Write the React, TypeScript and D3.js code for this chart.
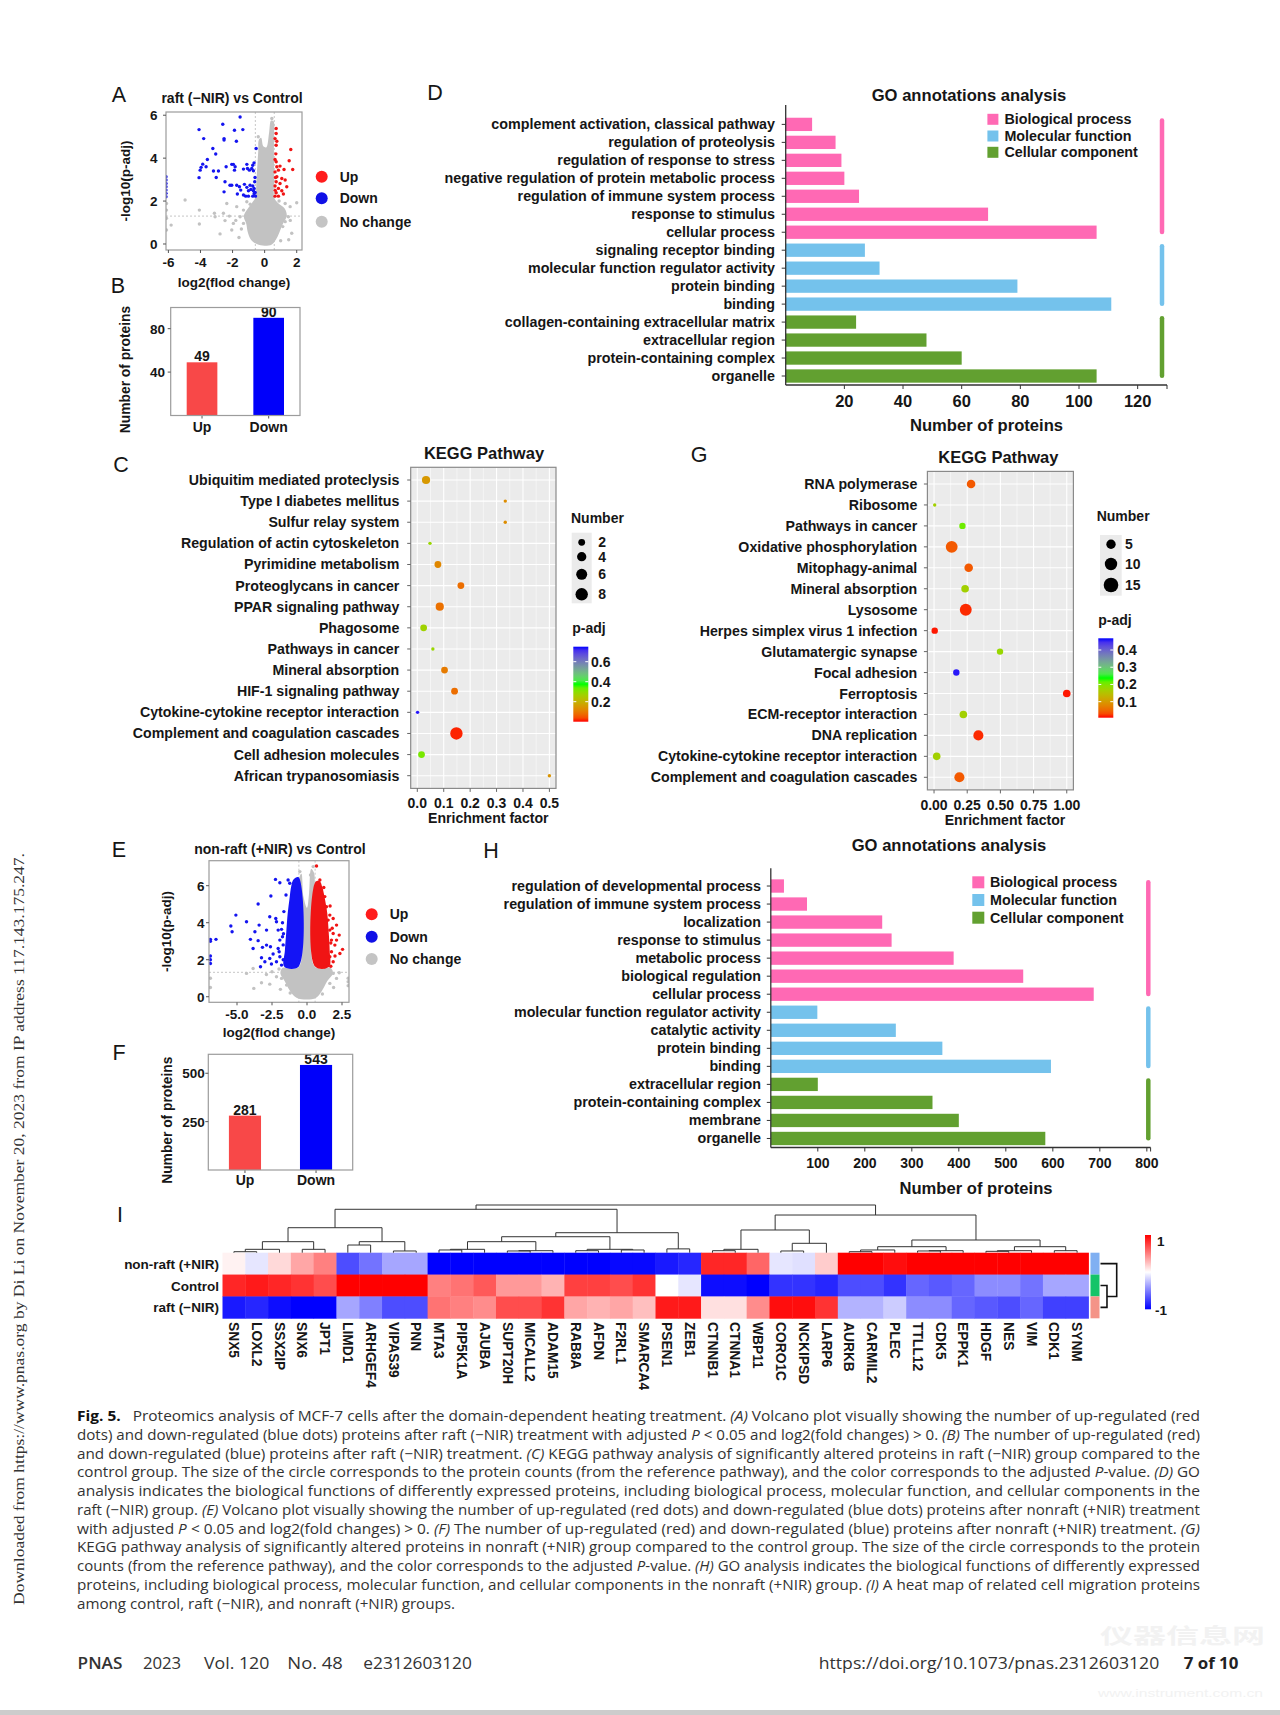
import React from 'react';
import * as d3 from 'd3';

type Pt = [number, number];

const FONT = "'Liberation Sans', Arial, Helvetica, sans-serif";
const INK = '#161616';

/* ================= A : raft (−NIR) vs Control ================= */
const volcA_up: Pt[] = [[0.72,5.38],[0.72,5.15],[0.65,4.91],[0.76,4.79],[0.72,4.6],[1.63,4.4],[0.65,3.94],[0.72,3.83],[1.53,3.88],[0.96,3.63],[0.76,3.6],[0.86,3.44],[1.21,3.47],[0.65,3.36],[1.75,3.47],[0.76,3.13],[1.07,3.05],[1.28,2.98],[0.72,2.9],[0.96,2.82],[0.65,2.7],[1.38,2.67],[0.86,2.59],[1.07,2.48],[0.72,2.39],[0.65,2.23],[0.86,2.23],[1.17,2.33],[0.68,3.1],[0.7,4.2],[0.66,2.5]];
const volcA_down: Pt[] = [[-1.53,5.92],[-4.09,5.33],[-2.61,5.58],[-1.88,5.3],[-1.36,5.33],[-2.53,4.91],[-2.53,4.84],[-3.8,4.91],[-1.76,4.79],[-3.23,4.45],[-0.53,4.45],[-3.05,4.19],[-3.57,3.94],[-3.86,3.72],[-3.65,3.6],[-3.96,3.57],[-4.02,3.44],[-4.09,3.09],[-3.19,3.4],[-2.88,3.4],[-3.02,3.1],[-2.4,3.6],[-2.05,3.71],[-1.95,3.71],[-1.84,3.6],[-1.88,3.44],[-1.11,3.71],[-0.74,3.67],[-0.66,3.78],[-1.07,3.52],[-0.8,3.52],[-1.32,3.49],[-0.95,3.44],[-0.7,3.41],[-2.47,2.9],[-2.05,2.74],[-2.16,2.74],[-2.53,2.43],[-1.74,2.74],[-1.57,2.67],[-1.26,2.78],[-1.49,2.51],[-1.11,2.64],[-0.91,2.74],[-0.74,2.7],[-0.66,2.59],[-0.86,2.54],[-1.01,2.48],[-0.7,2.48],[-0.59,2.4],[-1.7,2.33],[-1.32,2.28],[-1.01,2.23],[-0.74,2.23],[-0.57,2.23],[-1.18,2.23],[-6.15,3.13],[-6.15,2.98],[-6.15,2.82],[-6.15,2.67],[-6.15,2.51],[-6.15,2.36],[-6.15,2.2],[-0.62,2.9],[-0.6,3.1],[-0.65,2.35]];
const volcA_gray: Pt[] = [[-4.96,2.05],[-4.07,1.58],[-5.83,0.88],[-4.07,0.93],[-3.09,1.27],[-3.13,1.43],[-2.57,1.43],[-2.47,1.09],[-2.78,0.47],[-2.05,0.65],[-1.95,0.96],[-1.74,1.74],[-1.53,1.27],[-1.32,1.58],[-1.11,1.4],[-1.32,0.96],[1.59,1.74],[1.48,1.27],[1.69,0.5],[2.0,1.92],[1.28,1.89],[1.07,1.58],[1.28,1.04],[1.13,0.81],[-2.36,1.89],[-1.11,1.97],[-6.12,0.65],[-6.12,1.58],[-6.12,1.89],[-6.12,1.2],[-1.6,0.3],[-1.45,0.7],[1.5,0.2],[1.0,0.15],[-0.9,1.85],[0.9,2.0],[1.6,1.1],[-1.8,1.1],[-2.2,1.3],[-0.4,5.0],[0.45,5.85]];
const volcA_core: Pt[] = [[-0.49,0.0],[-0.85,0.2],[-1.05,0.55],[-1.15,0.95],[-1.3,1.3],[-1.1,1.6],[-0.8,1.9],[-0.58,2.15],[-0.52,2.8],[-0.46,3.6],[-0.4,4.3],[-0.36,4.85],[-0.22,4.95],[-0.08,4.55],[0.1,4.5],[0.28,5.2],[0.4,5.75],[0.56,5.72],[0.58,5.0],[0.58,4.0],[0.6,3.0],[0.6,2.15],[0.85,1.9],[1.25,1.65],[1.38,1.3],[1.15,0.95],[0.9,0.5],[0.7,0.2],[0.45,-0.02],[0.0,-0.08]];

/* ================= B ================= */
const countB_cats = ['Up', 'Down'];
const countB_vals = [49, 90];

/* ================= E : non-raft (+NIR) vs Control ================= */
const volcE_up: Pt[] = [[0.68,7.06],[0.92,6.31],[1.03,5.77],[1.27,5.41],[1.63,4.41],[1.51,4.14],[1.87,4.23],[2.11,3.87],[2.3,3.33],[2.54,2.56],[2.35,2.34],[1.99,2.79],[1.87,3.42],[1.75,3.06],[1.63,2.16],[1.87,1.89],[1.51,1.8],[1.75,2.43],[2.11,3.06],[1.39,4.86],[1.63,3.6],[1.27,1.62],[1.7,1.65],[2.0,2.2],[1.65,4.9],[1.2,5.9],[1.7,2.9],[1.8,3.7]];
const volcE_down: Pt[] = [[-5.08,4.41],[-5.44,3.82],[-5.35,3.51],[-4.32,4.05],[-3.49,5.01],[-3.42,3.87],[-3.72,3.51],[-4.04,3.1],[-3.85,2.61],[-3.49,3.03],[-3.18,2.67],[-2.89,3.6],[-2.66,4.32],[-2.58,5.44],[-2.25,6.34],[-1.94,6.16],[-2.23,4.23],[-2.18,4.05],[-2.89,2.79],[-2.61,2.7],[-3.25,2.11],[-3.32,1.62],[-3.01,1.89],[-2.66,2.07],[-2.42,2.31],[-2.18,1.89],[-2.54,1.77],[-1.94,2.16],[-2.06,3.6],[-1.82,3.64],[-1.75,3.24],[-1.94,3.06],[-2.06,2.61],[-1.99,2.43],[-1.35,6.31],[-1.23,6.13],[-1.82,1.71],[-6.9,3.1],[-6.9,3.0],[-6.9,2.2],[-6.9,2.0],[-6.9,1.8],[-6.5,3.1],[-1.7,2.8],[-1.75,4.0],[-1.65,4.6],[-1.5,5.5],[-1.7,2.0],[-1.68,3.4]];
const volcE_gray: Pt[] = [[-4.32,1.26],[-3.85,1.53],[-3.8,0.45],[-3.25,0.76],[-2.66,0.68],[-2.18,1.08],[-1.82,0.99],[-1.46,0.63],[1.87,1.26],[2.11,0.99],[1.63,0.72],[2.94,0.81],[2.94,0.6],[2.94,1.0],[-0.51,6.76],[0.25,6.58],[0.44,7.03],[-2.5,1.35],[-2.9,1.2],[-2.0,1.5],[2.3,1.3],[-6.9,1.0],[-6.9,0.5],[-1.9,0.4],[1.9,0.5],[-1.2,0.2],[1.1,0.15]];
const volcE_core: Pt[] = [[-0.75,-0.05],[-1.2,0.3],[-1.6,0.85],[-1.9,1.25],[-1.75,1.55],[-0.56,1.62],[-0.56,6.4],[-0.4,6.65],[-0.25,5.4],[0.0,4.8],[0.15,5.6],[0.3,6.9],[0.5,6.7],[0.56,6.0],[0.56,1.62],[1.7,1.55],[1.85,1.25],[1.45,0.85],[1.05,0.3],[0.65,-0.05],[0.0,-0.15]];
const volcE_downCore: Pt[] = [[-0.6,1.62],[-1.62,1.62],[-1.58,2.5],[-1.48,3.5],[-1.38,4.5],[-1.25,5.3],[-1.12,6.0],[-0.95,6.35],[-0.6,6.45]];
const volcE_upCore: Pt[] = [[0.6,1.62],[1.58,1.62],[1.62,2.5],[1.55,3.5],[1.45,4.5],[1.3,5.2],[1.1,5.9],[0.9,6.25],[0.6,6.2]];

/* ================= F ================= */
const countF_cats = ['Up', 'Down'];
const countF_vals = [281, 543];

/* ================= C : KEGG raft ================= */
const keggC_terms = ['Ubiquitim mediated proteclysis','Type I diabetes mellitus','Sulfur relay system','Regulation of actin cytoskeleton','Pyrimidine metabolism','Proteoglycans in cancer','PPAR signaling pathway','Phagosome','Pathways in cancer','Mineral absorption','HIF-1 signaling pathway','Cytokine-cytokine receptor interaction','Complement and coagulation cascades','Cell adhesion molecules','African trypanosomiasis'];
const keggC_ef = [0.033,0.333,0.333,0.048,0.078,0.165,0.085,0.024,0.059,0.103,0.141,0.001,0.148,0.016,0.5];
const keggC_count = [3,1,1,1,2,2,3,2,1,2,2,1,8,2,1];
const keggC_padj = [0.15,0.13,0.13,0.28,0.12,0.08,0.085,0.27,0.28,0.1,0.08,0.74,0.01,0.32,0.14];

/* ================= G : KEGG non-raft ================= */
const keggG_terms = ['RNA polymerase','Ribosome','Pathways in cancer','Oxidative phosphorylation','Mitophagy-animal','Mineral absorption','Lysosome','Herpes simplex virus 1 infection','Glutamatergic synapse','Focal adhesion','Ferroptosis','ECM-receptor interaction','DNA replication','Cytokine-cytokine receptor interaction','Complement and coagulation cascades'];
const keggG_ef = [0.279,0.005,0.214,0.133,0.261,0.234,0.239,0.005,0.497,0.168,1.0,0.221,0.334,0.02,0.191];
const keggG_count = [4,1,2,9,4,3,9,2,2,2,3,3,6,3,6];
const keggG_padj = [0.04,0.17,0.21,0.04,0.04,0.17,0.015,0.01,0.18,0.46,0.01,0.17,0.015,0.17,0.04];

/* ================= D : GO raft ================= */
const goD_terms = ['complement activation, classical pathway','regulation of proteolysis','regulation of response to stress','negative regulation of protein metabolic process','regulation of immune system process','response to stimulus','cellular process','signaling receptor binding','molecular function regulator activity','protein binding','binding','collagen-containing extracellular matrix','extracellular region','protein-containing complex','organelle'];
const goD_values = [9,17,19,20,25,69,106,27,32,79,111,24,48,60,106];
const goD_groups = ['BP','BP','BP','BP','BP','BP','BP','MF','MF','MF','MF','CC','CC','CC','CC'];

/* ================= H : GO non-raft ================= */
const goH_terms = ['regulation of developmental process','regulation of immune system process','localization','response to stimulus','metabolic process','biological regulation','cellular process','molecular function regulator activity','catalytic activity','protein binding','binding','extracellular region','protein-containing complex','membrane','organelle'];
const goH_values = [28,77,237,257,389,537,687,99,266,365,596,100,344,400,584];
const goH_groups = ['BP','BP','BP','BP','BP','BP','BP','MF','MF','MF','MF','CC','CC','CC','CC'];

const goGroupKeys = ['BP', 'MF', 'CC'];
const goGroupNames = ['Biological process', 'Molecular function', 'Cellular component'];
const goGroupColors = ['#ff69b4', '#74c2ec', '#62a030'];

/* ================= I : heat map ================= */
const hm_genes = ['SNX5','LOXL2','SSX2IP','SNX6','JPT1','LIMD1','ARHGEF4','VIPAS39','PNN','MTA3','PIP5K1A','AJUBA','SUPT20H','MICALL2','ADAM15','RAB8A','AFDN','F2RL1','SMARCA4','PSEN1','ZEB1','CTNNB1','CTNNA1','WBP11','CORO1C','NCKIPSD','LARP6','AURKB','CARMIL2','PLEC','TTLL12','CDK5','EPPK1','HDGF','NES','VIM','CDK1','SYNM'];
const hm_rows = ['non-raft (+NIR)', 'Control', 'raft (\u2212NIR)'];
const hm_nonraft = [0.05,-0.1,0.15,0.35,0.5,-0.7,-0.55,-0.35,-0.35,-1,-1,-1,-1,-1,-1,-1,-1,-0.97,-0.97,-0.9,-0.85,0.85,0.85,0.6,-0.1,-0.12,0.2,1,1,0.95,1,1,1,1,1,1,1,1];
const hm_control = [0.85,0.9,0.85,0.8,0.7,1,1,1,1,0.5,0.55,0.65,0.4,0.4,0.3,0.75,0.75,0.7,0.8,0.0,-0.1,-0.95,-0.95,-1,-0.8,-0.8,-0.85,-0.7,-0.7,-0.8,-0.6,-0.65,-0.6,-0.45,-0.45,-0.55,-0.35,-0.35];
const hm_raft = [-0.9,-0.85,-0.95,-1,-1,-0.35,-0.5,-0.7,-0.7,0.55,0.5,0.45,0.7,0.7,0.8,0.35,0.3,0.35,0.25,0.9,0.9,0.12,0.12,0.45,0.95,0.95,0.8,-0.3,-0.3,-0.2,-0.45,-0.45,-0.6,-0.65,-0.7,-0.6,-0.75,-0.75];
const hm_rowAnnot = ['#80b0f2', '#14c468', '#f49488'];
// hclust-style merges: negative = leaf (1-based), positive = earlier merge (1-based); third = height
const hm_colMerges: [number, number, number][] = [
  [-1,-2,0.21],[-3,1,0.71],[-4,-5,0.71],[2,3,2.31],[-6,-7,1.61],[-8,-9,0.36],[5,6,2.31],[4,7,5.24],
  [-10,-11,0.57],[9,-12,0.71],[-13,-14,0.36],[11,-15,0.42],[10,12,2.31],[-16,-17,0.42],[-18,-19,0.57],[14,15,0.71],[13,16,3.35],[-20,-21,0.8],[17,18,4.19],[8,19,9.1],
  [-22,-23,0.42],[21,-24,0.71],[-25,-26,0.36],[23,-27,1.97],[22,24,4.76],
  [-28,-29,0.21],[26,-30,0.57],[-31,-32,0.36],[28,-33,0.42],[27,29,1.26],[-34,-35,0.29],[31,-36,0.42],[-37,-38,0.42],[32,33,1.26],[30,34,2.66],[25,35,7.9],[20,36,10]
];
const hm_rowMerges: [number, number, number][] = [[-2,-3,0.4],[-1,1,1.0]];

/* ================= caption / page ================= */
const captionLines = [
  '*Fig. 5.*   Proteomics analysis of MCF-7 cells after the domain-dependent heating treatment. _(A)_ Volcano plot visually showing the number of up-regulated (red',
  'dots) and down-regulated (blue dots) proteins after raft (\u2212NIR) treatment with adjusted _P_ < 0.05 and log2(fold changes) > 0. _(B)_ The number of up-regulated (red)',
  'and down-regulated (blue) proteins after raft (\u2212NIR) treatment. _(C)_ KEGG pathway analysis of significantly altered proteins in raft (\u2212NIR) group compared to the',
  'control group. The size of the circle corresponds to the protein counts (from the reference pathway), and the color corresponds to the adjusted _P_-value. _(D)_ GO',
  'analysis indicates the biological functions of differently expressed proteins, including biological process, molecular function, and cellular components in the',
  'raft (\u2212NIR) group. _(E)_ Volcano plot visually showing the number of up-regulated (red dots) and down-regulated (blue dots) proteins after nonraft (+NIR) treatment',
  'with adjusted _P_ < 0.05 and log2(fold changes) > 0. _(F)_ The number of up-regulated (red) and down-regulated (blue) proteins after nonraft (+NIR) treatment. _(G)_',
  'KEGG pathway analysis of significantly altered proteins in nonraft (+NIR) group compared to the control group. The size of the circle corresponds to the protein',
  'counts (from the reference pathway), and the color corresponds to the adjusted _P_-value. _(H)_ GO analysis indicates the biological functions of differently expressed',
  'proteins, including biological process, molecular function, and cellular components in the nonraft (+NIR) group. _(I)_ A heat map of related cell migration proteins',
  'among control, raft (\u2212NIR), and nonraft (+NIR) groups.'
];
const footerLeft = ['PNAS', '2023', 'Vol. 120', 'No. 48', 'e2312603120'];
const footerRight = ['https://doi.org/10.1073/pnas.2312603120', '7 of 10'];
const sideNote = 'Downloaded from https://www.pnas.org by Di Li on November 20, 2023 from IP address 117.143.175.247.';

/* ================= components ================= */
const T = (p: any) => <text fontFamily={FONT} fontWeight="bold" fill={INK} {...p} />;

function Volcano(p: any) {
  const { id, box, xd, yd, xticks, yticks, fmt, up, down, gray, core, downCore, upCore, thrX, thrY, yLabGap, title, titleX, titleY, xlabY, ylabX, legX, legY } = p;
  const [x0, y0, x1, y1] = box;
  const x = d3.scaleLinear().domain(xd).range([x0, x1]);
  const y = d3.scaleLinear().domain(yd).range([y1, y0]);
  const shape = d3.line<Pt>().x(d => x(d[0])).y(d => y(d[1])).curve(d3.curveCatmullRomClosed.alpha(0.5));
  const R = 1.7;
  const GRAY = '#c2c2c2';
  const cx = (x0 + x1) / 2;
  return (
    <g>
      <defs><clipPath id={id}><rect x={x0} y={y0} width={x1 - x0} height={y1 - y0} /></clipPath></defs>
      <rect x={x0} y={y0} width={x1 - x0} height={y1 - y0} fill="#fff" />
      <g clipPath={`url(#${id})`}>
        {thrX.map((v: number) => <line key={v} x1={x(v)} x2={x(v)} y1={y0} y2={y1} stroke="#b8b8b8" strokeWidth={0.8} strokeDasharray="2,2" />)}
        <line x1={x0} x2={x1} y1={y(thrY)} y2={y(thrY)} stroke="#b8b8b8" strokeWidth={0.8} strokeDasharray="2,2" />
        <path d={shape(core) || ''} fill={GRAY} />
        {gray.map((d: Pt, i: number) => <circle key={'g' + i} cx={x(d[0])} cy={y(d[1])} r={R} fill={GRAY} />)}
        {downCore && <path d={shape(downCore) || ''} fill="#1414f5" />}
        {upCore && <path d={shape(upCore) || ''} fill="#f01414" />}
        {down.map((d: Pt, i: number) => <circle key={'d' + i} cx={x(d[0])} cy={y(d[1])} r={R} fill="#1414f0" />)}
        {up.map((d: Pt, i: number) => <circle key={'u' + i} cx={x(d[0])} cy={y(d[1])} r={R} fill="#f01414" />)}
      </g>
      <rect x={x0} y={y0} width={x1 - x0} height={y1 - y0} fill="none" stroke="#9c9c9c" strokeWidth={1.2} />
      {xticks.map((v: number) => (
        <g key={'xt' + v}>
          <line x1={x(v)} x2={x(v)} y1={y1} y2={y1 + 3} stroke="#555" />
          <T x={x(v)} y={y1 + 17} fontSize={13.5} textAnchor="middle">{fmt(v)}</T>
        </g>
      ))}
      {yticks.map((v: number) => (
        <g key={'yt' + v}>
          <line x1={x0 - 3} x2={x0} y1={y(v)} y2={y(v)} stroke="#555" />
          <T x={x0 - yLabGap} y={y(v) + 5} fontSize={13.5} textAnchor="end">{v}</T>
        </g>
      ))}
      <T x={titleX} y={titleY} fontSize={14} textAnchor="middle">{title}</T>
      <T x={cx} y={xlabY} fontSize={13.5} textAnchor="middle">log2(flod change)</T>
      <T transform={`translate(${ylabX},${(y0 + y1) / 2}) rotate(-90)`} dy="0.35em" fontSize={13.5} textAnchor="middle">-log10(p-adj)</T>
      {[['Up', '#ff1c1c'], ['Down', '#1010e6'], ['No change', '#c4c4c4']].map(([lab, col], i) => (
        <g key={lab}>
          <circle cx={legX} cy={legY[i]} r={6} fill={col} />
          <T x={legX + 18} y={legY[i] + 5} fontSize={14}>{lab}</T>
        </g>
      ))}
    </g>
  );
}

function CountBars(p: any) {
  const { box, cats, vals, yMax, yticks, yLabGap, ylabX, xlabY, pi, po } = p;
  const [x0, y0, x1, y1] = box;
  const x = d3.scaleBand().domain(cats).range([x0, x1]).paddingInner(pi).paddingOuter(po);
  const y = d3.scaleLinear().domain([0, yMax]).range([y1, y0]);
  const cols = ['#f84848', '#0000fa'];
  return (
    <g>
      {cats.map((c: string, i: number) => (
        <g key={c}>
          <rect x={x(c)} y={y(vals[i])} width={x.bandwidth()} height={y1 - y(vals[i])} fill={cols[i]} />
          <T x={(x(c) as number) + x.bandwidth() / 2} y={y(vals[i]) - 1} fontSize={14} textAnchor="middle">{vals[i]}</T>
          <line x1={(x(c) as number) + x.bandwidth() / 2} x2={(x(c) as number) + x.bandwidth() / 2} y1={y1} y2={y1 + 3} stroke="#555" />
          <T x={(x(c) as number) + x.bandwidth() / 2} y={xlabY} fontSize={14} textAnchor="middle">{c}</T>
        </g>
      ))}
      <rect x={x0} y={y0} width={x1 - x0} height={y1 - y0} fill="none" stroke="#9c9c9c" strokeWidth={1.2} />
      {yticks.map((v: number) => (
        <g key={v}>
          <line x1={x0 - 3} x2={x0} y1={y(v)} y2={y(v)} stroke="#555" />
          <T x={x0 - yLabGap} y={y(v) + 5} fontSize={13.5} textAnchor="end">{v}</T>
        </g>
      ))}
      <T transform={`translate(${ylabX},${(y0 + y1) / 2 + 8}) rotate(-90)`} dy="0.35em" fontSize={13.8} textAnchor="middle">Number of proteins</T>
    </g>
  );
}

function Kegg(p: any) {
  const { terms, ef, cnt, padj, panel, rows, xd, xticks, minor, fmt, labelX, color, rScale, titleX, titleY, xlabX } = p;
  const [px0, py0, px1, py1] = panel;
  const x = d3.scaleLinear().domain(xd).range([px0, px1]);
  const y = d3.scalePoint().domain(terms).range(rows);
  return (
    <g>
      <rect x={px0} y={py0} width={px1 - px0} height={py1 - py0} fill="#ebebeb" />
      {minor.map((v: number) => <line key={'mn' + v} x1={x(v)} x2={x(v)} y1={py0} y2={py1} stroke="#fff" strokeWidth={0.5} />)}
      {xticks.map((v: number) => <line key={'mj' + v} x1={x(v)} x2={x(v)} y1={py0} y2={py1} stroke="#fff" strokeWidth={1.1} />)}
      {terms.map((t: string) => <line key={'hr' + t} x1={px0} x2={px1} y1={y(t)} y2={y(t)} stroke="#fff" strokeWidth={1.1} />)}
      {terms.map((t: string, i: number) => (
        <circle key={'pt' + t} cx={x(ef[i])} cy={y(t)} r={rScale(cnt[i])} fill={color(padj[i])} />
      ))}
      <rect x={px0} y={py0} width={px1 - px0} height={py1 - py0} fill="none" stroke="#8a8a8a" strokeWidth={1.2} />
      {terms.map((t: string) => (
        <g key={'lb' + t}>
          <line x1={px0 - 3.5} x2={px0} y1={y(t)} y2={y(t)} stroke="#666" />
          <T x={labelX} y={(y(t) as number) + 5} fontSize={14.2} textAnchor="end">{t}</T>
        </g>
      ))}
      {xticks.map((v: number) => (
        <g key={'xt' + v}>
          <line x1={x(v)} x2={x(v)} y1={py1} y2={py1 + 3.5} stroke="#666" />
          <T x={x(v)} y={py1 + 20} fontSize={14} textAnchor="middle">{fmt(v)}</T>
        </g>
      ))}
      <T x={titleX} y={titleY} fontSize={16.5} textAnchor="middle">KEGG Pathway</T>
      <T x={xlabX} y={py1 + 35} fontSize={14.1} textAnchor="middle">Enrichment factor</T>
    </g>
  );
}

function KeggLegend(p: any) {
  const { id, nx, ny, bg, keys, keyY, keyX, keyLabX, rScale, px, py, bar, cdom, cticks, color, clabX } = p;
  const [bx, by, bw, bh] = bar;
  const cy = d3.scaleLinear().domain(cdom).range([by + bh, by]);
  const stops = d3.range(0, 1.0001, 0.05).map(t => cdom[0] + t * (cdom[1] - cdom[0]));
  return (
    <g>
      <defs>
        <linearGradient id={id} x1="0" y1="1" x2="0" y2="0">
          {stops.map((v, i) => <stop key={i} offset={(i / (stops.length - 1)).toFixed(3)} stopColor={color(v)} />)}
        </linearGradient>
      </defs>
      <T x={nx} y={ny} fontSize={14}>Number</T>
      <rect x={bg[0]} y={bg[1]} width={bg[2]} height={bg[3]} fill="#ebebeb" />
      {keys.map((k: number, i: number) => (
        <g key={k}>
          <circle cx={keyX} cy={keyY[i]} r={rScale(k)} fill="#000" />
          <T x={keyLabX} y={keyY[i] + 5} fontSize={14}>{k}</T>
        </g>
      ))}
      <T x={px} y={py} fontSize={14}>p-adj</T>
      <rect x={bx} y={by} width={bw} height={bh} fill={`url(#${id})`} />
      {cticks.map((v: number) => (
        <g key={v}>
          <line x1={bx} x2={bx + 3} y1={cy(v)} y2={cy(v)} stroke="#fff" />
          <line x1={bx + bw - 3} x2={bx + bw} y1={cy(v)} y2={cy(v)} stroke="#fff" />
          <T x={clabX} y={cy(v) + 5} fontSize={14}>{v.toFixed(1)}</T>
        </g>
      ))}
    </g>
  );
}

function GOBars(p: any) {
  const { terms, vals, groups, band, axisX, axisTop, xMax, xEnd, ticks, tickFs, tickBase, labelX, legX, legSize, legY, legTextX, sideX, titleX, titleY, xlabX, xlabY } = p;
  const y = d3.scaleBand().domain(terms).range(band).paddingInner(0.26).paddingOuter(0.13);
  const x = d3.scaleLinear().domain([0, xMax]).range([axisX, xEnd]);
  const axisY = band[1];
  const colOf = (g: string) => goGroupColors[goGroupKeys.indexOf(g)];
  return (
    <g>
      {terms.map((t: string, i: number) => (
        <g key={t}>
          <rect x={axisX} y={y(t)} width={x(vals[i]) - axisX} height={y.bandwidth()} fill={colOf(groups[i])} />
          <line x1={axisX - 4} x2={axisX} y1={(y(t) as number) + y.bandwidth() / 2} y2={(y(t) as number) + y.bandwidth() / 2} stroke="#333" />
          <T x={labelX} y={(y(t) as number) + y.bandwidth() / 2 + 5} fontSize={14.3} textAnchor="end">{t}</T>
        </g>
      ))}
      <line x1={axisX} x2={axisX} y1={axisTop} y2={axisY} stroke="#333" strokeWidth={1.3} />
      <line x1={axisX} x2={xEnd} y1={axisY} y2={axisY} stroke="#333" strokeWidth={1.3} />
      {ticks.map((v: number) => (
        <g key={v}>
          <line x1={x(v)} x2={x(v)} y1={axisY} y2={axisY + 4} stroke="#333" />
          <T x={x(v)} y={tickBase} fontSize={tickFs} textAnchor="middle">{v}</T>
        </g>
      ))}
      <line x1={xEnd} x2={xEnd} y1={axisY} y2={axisY + 4} stroke="#333" />
      {goGroupKeys.map((g, gi) => {
        const idx = groups.map((d: string, i: number) => (d === g ? i : -1)).filter((i: number) => i >= 0);
        const top = y(terms[idx[0]]) as number;
        const bot = (y(terms[idx[idx.length - 1]]) as number) + y.bandwidth();
        return <line key={'sb' + g} x1={sideX} x2={sideX} y1={top + 2.8} y2={bot - 7} stroke={goGroupColors[gi]} strokeWidth={4.5} strokeLinecap="round" />;
      })}
      {goGroupNames.map((n, gi) => (
        <g key={n}>
          <rect x={legX} y={legY[gi] - legSize / 2} width={legSize} height={legSize} fill={goGroupColors[gi]} />
          <T x={legTextX} y={legY[gi] + 5} fontSize={14.3}>{n}</T>
        </g>
      ))}
      <T x={titleX} y={titleY} fontSize={16.6} textAnchor="middle">GO annotations analysis</T>
      <T x={xlabX} y={xlabY} fontSize={16.6} textAnchor="middle">Number of proteins</T>
    </g>
  );
}

function Heatmap() {
  const x = d3.scaleBand().domain(hm_genes).range([222.5, 1088.5]);
  const y = d3.scaleBand().domain(hm_rows).range([1252.7, 1318.3]);
  const color = d3.scaleLinear<string>().domain([-1, 0, 1]).range(['#0000ff', '#ffffff', '#ff0000']);
  const mat = [hm_nonraft, hm_control, hm_raft];
  const hy = d3.scaleLinear().domain([0, 10]).range([1252.7, 1205]);
  const cx = (i: number) => (x(hm_genes[i]) as number) + x.bandwidth() / 2;
  const mx: number[] = [];
  const mh: number[] = [];
  const paths: string[] = [];
  hm_colMerges.forEach(([a, b, h], i) => {
    const pa = a < 0 ? { x: cx(-a - 1), h: 0 } : { x: mx[a - 1], h: mh[a - 1] };
    const pb = b < 0 ? { x: cx(-b - 1), h: 0 } : { x: mx[b - 1], h: mh[b - 1] };
    mx[i] = (pa.x + pb.x) / 2;
    mh[i] = h;
    paths.push(`M${pa.x},${hy(pa.h)}V${hy(h)}H${pb.x}V${hy(pb.h)}`);
  });
  const hx = d3.scaleLinear().domain([0, 1]).range([1100.5, 1116.7]);
  const ry = (i: number) => (y(hm_rows[i]) as number) + y.bandwidth() / 2;
  const rmy: number[] = [];
  const rmh: number[] = [];
  const rpaths: string[] = [];
  hm_rowMerges.forEach(([a, b, h], i) => {
    const pa = a < 0 ? { y: ry(-a - 1), h: 0 } : { y: rmy[a - 1], h: rmh[a - 1] };
    const pb = b < 0 ? { y: ry(-b - 1), h: 0 } : { y: rmy[b - 1], h: rmh[b - 1] };
    rmy[i] = (pa.y + pb.y) / 2;
    rmh[i] = h;
    rpaths.push(`M${hx(pa.h)},${pa.y}H${hx(h)}V${pb.y}H${hx(pb.h)}`);
  });
  return (
    <g>
      <defs>
        <linearGradient id="hmbar" x1="0" y1="0" x2="0" y2="1">
          <stop offset="0" stopColor="#ff0000" />
          <stop offset="0.5" stopColor="#ffffff" />
          <stop offset="1" stopColor="#0000ff" />
        </linearGradient>
      </defs>
      {mat.map((row, r) => row.map((v, c) => (
        <rect key={r + '-' + c} x={x(hm_genes[c])} y={y(hm_rows[r])} width={x.bandwidth() + 0.4} height={y.bandwidth() + 0.4} fill={color(v)} />
      )))}
      {hm_rows.map((r, i) => (
        <g key={r}>
          <rect x={1090.5} y={y(r)} width={9} height={y.bandwidth()} fill={hm_rowAnnot[i]} />
          <T x={219} y={ry(i) + 5} fontSize={13.5} textAnchor="end">{r}</T>
        </g>
      ))}
      {paths.map((d, i) => <path key={'cp' + i} d={d} fill="none" stroke="#333" strokeWidth={1} />)}
      {rpaths.map((d, i) => <path key={'rp' + i} d={d} fill="none" stroke="#111" strokeWidth={1.6} />)}
      {hm_genes.map((g, i) => (
        <T key={g} transform={`translate(${cx(i)},1322) rotate(90)`} dy="0.35em" fontSize={13.8}>{g}</T>
      ))}
      <rect x={1145} y={1235} width={6} height={74.3} fill="url(#hmbar)" />
      <T x={1157} y={1245.5} fontSize={13.5}>1</T>
      <T x={1155} y={1315} fontSize={13.5}>-1</T>
    </g>
  );
}

function Rich({ s }: { s: string }) {
  const parts = s.split(/(\*[^*]+\*|_[^_]+_)/).filter(Boolean);
  return (
    <>
      {parts.map((q, i) =>
        q[0] === '*' ? <tspan key={i} fontWeight="bold" fill="#111">{q.slice(1, -1)}</tspan>
          : q[0] === '_' ? <tspan key={i} fontStyle="italic">{q.slice(1, -1)}</tspan>
            : <tspan key={i}>{q}</tspan>
      )}
    </>
  );
}

const Letter = ({ x, y, t }: any) => <text x={x} y={y} fontFamily={FONT} fontSize={21.5} fill={INK} textAnchor="middle">{t}</text>;

export default function App() {
  const colorC = d3.scaleLinear<string>().domain([0, 0.375, 0.75]).range(['#ff0000', '#00ff00', '#0000ff']).interpolate(d3.interpolateLab);
  const colorG = d3.scaleLinear<string>().domain([0.007, 0.2375, 0.468]).range(['#ff0000', '#00ff00', '#0000ff']).interpolate(d3.interpolateLab);
  const sqrtC = d3.scaleSqrt().domain([0, 7]).range([0, 4.5]);
  const sizeC = (n: number) => 1.7 + sqrtC(n - 1);
  const sqrtG = d3.scaleSqrt().domain([0, 14]).range([0, 5.6]);
  const sizeG = (n: number) => 1.7 + sqrtG(n - 1);
  const capY = d3.range(captionLines.length).map(i => 1421 + i * 18.76);
  const footLeftX = [77.6, 142.9, 204, 287.3, 363.3];
  const footLeftW = [44.8, 38.3, 65.4, 55.6, 108.5];

  return (
    <svg width={1280} height={1715} viewBox="0 0 1280 1715" style={{ position: 'absolute', left: 0, top: 0, display: 'block' }}>
      <rect width={1280} height={1715} fill="#fff" />

      {/* panel letters */}
      <Letter x={119} y={101.5} t="A" />
      <Letter x={118} y={292.5} t="B" />
      <Letter x={121} y={471.5} t="C" />
      <Letter x={435} y={99.5} t="D" />
      <Letter x={119} y={856.5} t="E" />
      <Letter x={119} y={1060} t="F" />
      <Letter x={699} y={461.5} t="G" />
      <Letter x={491} y={858.3} t="H" />
      <Letter x={120} y={1222} t="I" />

      {/* A */}
      <Volcano id="clipA" box={[166, 112, 302, 250]} xd={[-6.15, 2.33]} yd={[-0.28, 6.15]}
        xticks={[-6, -4, -2, 0, 2]} yticks={[0, 2, 4, 6]} fmt={(v: number) => String(v)}
        up={volcA_up} down={volcA_down} gray={volcA_gray} core={volcA_core}
        thrX={[-0.58, 0.6]} thrY={1.3} yLabGap={8.5}
        title={'raft (\u2212NIR) vs Control'} titleX={232} titleY={103.3} xlabY={286.5} ylabX={125}
        legX={321.7} legY={[176.7, 198.3, 221.7]} />

      {/* B */}
      <CountBars box={[170.7, 307.5, 300, 415.5]} cats={countB_cats} vals={countB_vals} yMax={99.5}
        yticks={[40, 80]} yLabGap={5.7} ylabX={125} xlabY={431.5} pi={0.54} po={0.24} />

      {/* E */}
      <Volcano id="clipE" box={[209, 860.7, 349, 1002.3]} xd={[-7.0, 3.0]} yd={[-0.3, 7.35]}
        xticks={[-5, -2.5, 0, 2.5]} yticks={[0, 2, 4, 6]} fmt={(v: number) => v.toFixed(1)}
        up={volcE_up} down={volcE_down} gray={volcE_gray} core={volcE_core}
        downCore={volcE_downCore} upCore={volcE_upCore}
        thrX={[-0.58, 0.58]} thrY={1.32} yLabGap={4.5}
        title="non-raft (+NIR) vs Control" titleX={280} titleY={854.3} xlabY={1036.5} ylabX={166.7}
        legX={371.7} legY={[914.3, 936.7, 959]} />

      {/* F */}
      <CountBars box={[208.3, 1054.3, 352.7, 1170]} cats={countF_cats} vals={countF_vals} yMax={598}
        yticks={[250, 500]} yLabGap={3.5} ylabX={166.7} xlabY={1185} pi={0.548} po={0.29} />

      {/* C */}
      <Kegg terms={keggC_terms} ef={keggC_ef} cnt={keggC_count} padj={keggC_padj}
        panel={[410.7, 467.3, 556, 788.4]} rows={[480, 775.7]} xd={[-0.025, 0.525]}
        xticks={[0, 0.1, 0.2, 0.3, 0.4, 0.5]} minor={[0.05, 0.15, 0.25, 0.35, 0.45]}
        fmt={(v: number) => v.toFixed(1)} labelX={399.3} color={colorC} rScale={sizeC}
        titleX={484} titleY={459} xlabX={488.3} />
      <KeggLegend id="gradC" nx={571} ny={522.7} bg={[571.7, 532.7, 20, 70.6]} keys={[2, 4, 6, 8]}
        keyY={[542.3, 556.7, 574.3, 594.3]} keyX={581.7} keyLabX={598.3} rScale={sizeC}
        px={572.3} py={633} bar={[573.3, 646.7, 15, 75]} cdom={[0, 0.75]} cticks={[0.2, 0.4, 0.6]}
        color={colorC} clabX={591} />

      {/* G */}
      <Kegg terms={keggG_terms} ef={keggG_ef} cnt={keggG_count} padj={keggG_padj}
        panel={[927.4, 471.4, 1073.4, 789.9]} rows={[484, 777.3]} xd={[-0.05, 1.05]}
        xticks={[0, 0.25, 0.5, 0.75, 1]} minor={[0.125, 0.375, 0.625, 0.875]}
        fmt={(v: number) => v.toFixed(2)} labelX={917.3} color={colorG} rScale={sizeG}
        titleX={998.3} titleY={462.5} xlabX={1005} />
      <KeggLegend id="gradG" nx={1096.7} ny={520.7} bg={[1100, 535, 21.7, 60.7]} keys={[5, 10, 15]}
        keyY={[544.3, 564, 585]} keyX={1111} keyLabX={1125} rScale={sizeG}
        px={1098.3} py={625} bar={[1098.3, 638.3, 15, 79.4]} cdom={[0.007, 0.468]} cticks={[0.1, 0.2, 0.3, 0.4]}
        color={colorG} clabX={1117.3} />

      {/* D */}
      <GOBars terms={goD_terms} vals={goD_values} groups={goD_groups} band={[115.4, 385]}
        axisX={785.7} axisTop={105} xMax={130} xEnd={1167} ticks={[20, 40, 60, 80, 100, 120]}
        tickFs={16.5} tickBase={407} labelX={775} legX={987.4} legSize={11} legY={[119.3, 136, 152.3]}
        legTextX={1004.4} sideX={1162} titleX={969} titleY={101} xlabX={986.5} xlabY={431} />

      {/* H */}
      <GOBars terms={goH_terms} vals={goH_values} groups={goH_groups} band={[877, 1147.5]}
        axisX={770.8} axisTop={868.3} xMax={808} xEnd={1150.6} ticks={[100, 200, 300, 400, 500, 600, 700, 800]}
        tickFs={14} tickBase={1168.3} labelX={761} legX={972.3} legSize={12} legY={[882.3, 900, 917.7]}
        legTextX={990} sideX={1148.3} titleX={949} titleY={851} xlabX={976} xlabY={1194} />

      {/* I */}
      <Heatmap />

      {/* caption */}
      {captionLines.map((s, i) => (
        <text key={i} x={77} y={capY[i]} fontFamily="'Open Sans', 'Liberation Sans', sans-serif" fontSize={14.5} fill="#333"
          textLength={i < captionLines.length - 1 ? 1123 : 378} lengthAdjust="spacingAndGlyphs" style={{ whiteSpace: 'pre' }}>
          <Rich s={s} />
        </text>
      ))}

      {/* faint watermark (drawn first so footer text sits on top) */}
      <text x={1100} y={1643} fontFamily="'Noto Sans CJK SC', sans-serif" fontSize={21} fontWeight="bold" fill="#f2f2f2"
        textLength={165} lengthAdjust="spacingAndGlyphs">仪器信息网</text>
      <text x={1098} y={1697} fontFamily={FONT} fontSize={10} fill="#f2f2f2" textLength={165} lengthAdjust="spacingAndGlyphs">www.instrument.com.cn</text>

      {/* footer */}
      {footerLeft.map((s, i) => (
        <text key={s} x={footLeftX[i]} y={1668.5} fontFamily="'Open Sans', 'Liberation Sans', sans-serif" fontSize={16}
          fontWeight={i === 0 ? 600 : 400} fill="#333" textLength={footLeftW[i]} lengthAdjust="spacingAndGlyphs">{s}</text>
      ))}
      <text x={818.8} y={1668.5} fontFamily="'Open Sans', 'Liberation Sans', sans-serif" fontSize={16} fill="#333"
        textLength={340.4} lengthAdjust="spacingAndGlyphs">{footerRight[0]}</text>
      <text x={1183.7} y={1668.5} fontFamily="'Open Sans', 'Liberation Sans', sans-serif" fontSize={16} fontWeight="bold" fill="#222"
        textLength={54.7} lengthAdjust="spacingAndGlyphs">{footerRight[1]}</text>

      {/* side note */}
      <text transform="translate(24,1605) rotate(-90)" fontFamily="'Liberation Serif', 'Times New Roman', serif" fontSize={15}
        fill="#333" textLength={752} lengthAdjust="spacingAndGlyphs">{sideNote}</text>

      <rect x={0} y={1710} width={1280} height={5} fill="#cccccc" />
    </svg>
  );
}
